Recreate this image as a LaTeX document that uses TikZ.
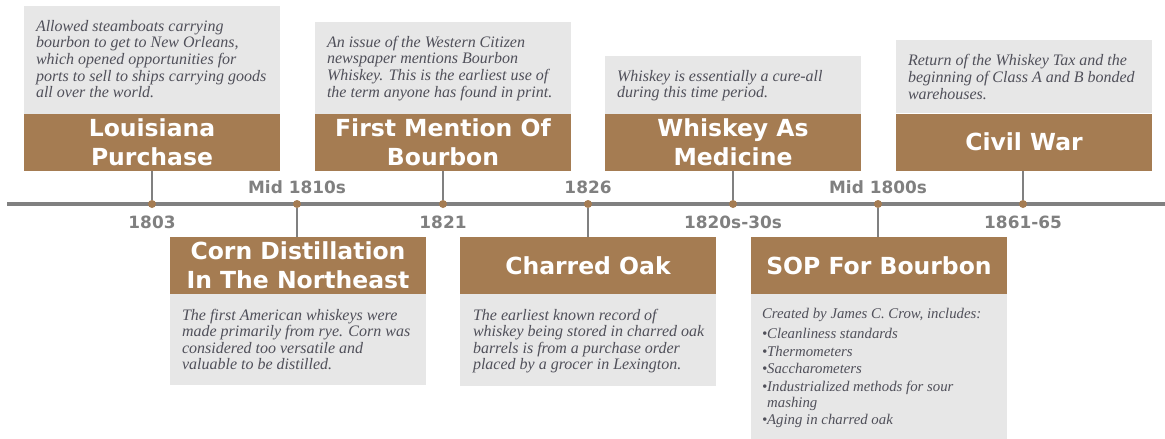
\documentclass[tikz,border=0pt]{standalone}
\usepackage{fontspec}
\setmainfont{Liberation Serif}
\newfontfamily\headfont{DejaVu Sans}
\definecolor{oakbrown}{HTML}{A57C52}
\definecolor{boxgray}{HTML}{E7E7E7}
\definecolor{linegray}{HTML}{808080}
\definecolor{inkgray}{HTML}{50505A}
\tikzset{
  title/.style={fill=oakbrown, text=white, font=\headfont\bfseries\fontsize{23.5}{29}\selectfont,
    align=center, minimum width=256pt, minimum height=57pt, inner sep=0pt},
  descbox/.style={fill=boxgray, minimum width=256pt, inner sep=0pt},
  desc/.style={anchor=north west, inner sep=0pt, align=left, text=inkgray,
    font=\itshape\fontsize{16}{16.6}\selectfont},
  year/.style={text=linegray, font=\headfont\bfseries\fontsize{16.9}{18}\selectfont},
  dot/.style={circle, fill=oakbrown, inner sep=0pt, minimum size=8pt},
  stem/.style={draw=linegray, line width=2pt},
  axis/.style={draw=linegray, line width=4pt}
}
\begin{document}
\begin{tikzpicture}[x=1pt,y=-1pt]
		\useasboundingbox (0,0) rectangle (1165,439);
		%
		\coordinate (tl0) at (7,204);
		\coordinate (tl1) at (1165,204);
		\draw[axis] (tl0) -- (tl1);
		%
		\node[title] (lpt) at (152,142.5) {Louisiana\\Purchase};
		\node[title] (fmt) at (443,142.5) {First Mention Of\\Bourbon};
		\node[title] (wmt) at (733,142.5) {Whiskey As\\Medicine};
		\node[title] (cwt) at (1024,142) {Civil War};
		\node[title] (cdt) at (298,265.5) {Corn Distillation\\In The Northeast};
		\node[title] (cot) at (588,265.5) {Charred Oak};
		\node[title] (sopt) at (879,265.5) {SOP For Bourbon};
		%
		\node[descbox, minimum height=108pt, anchor=south] (lpb) at (lpt.north) {};
		\node[descbox, minimum height=92pt, anchor=south] (fmb) at (fmt.north) {};
		\node[descbox, minimum height=58pt, anchor=south] (wmb) at (wmt.north) {};
		\node[descbox, minimum height=73pt, anchor=south] (cwb) at (cwt.north) {};
		\node[descbox, minimum height=91pt, anchor=north] (cdb) at (cdt.south) {};
		\node[descbox, minimum height=92pt, anchor=north] (cob) at (cot.south) {};
		\node[descbox, minimum height=145pt, anchor=north] (sopb) at (sopt.south) {};
		%
		\node[desc] (lpx) at ([shift={(12,14.5)}]lpb.north west)
			{Allowed steamboats carrying\\bourbon to get to New Orleans,\\which opened opportunities for\\ports to sell to ships carrying goods\\all over the world.};
		\node[desc] (fmx) at ([shift={(12,14.5)}]fmb.north west)
			{An issue of the Western Citizen\\newspaper mentions Bourbon\\Whiskey. This is the earliest use of\\the term anyone has found in print.};
		\node[desc] (wmx) at ([shift={(12,14.5)}]wmb.north west)
			{Whiskey is essentially a cure-all\\during this time period.};
		\node[desc] (cwx) at ([shift={(12,14.5)}]cwb.north west)
			{Return of the Whiskey Tax and the\\beginning of Class A and B bonded\\warehouses.};
		\node[desc] (cdx) at ([shift={(12,14.5)}]cdb.north west)
			{The first American whiskeys were\\made primarily from rye. Corn was\\considered too versatile and\\valuable to be distilled.};
		\node[desc] (cox) at ([shift={(13,14.5)}]cob.north west)
			{The earliest known record of\\whiskey being stored in charred oak\\barrels is from a purchase order\\placed by a grocer in Lexington.};
		\node[desc, font=\itshape\fontsize{14.8}{17.5}\selectfont] (sopx) at ([shift={(11,14)}]sopb.north west)
			{Created by James C. Crow, includes:\\[2.5pt]
			\textbullet Cleanliness standards\\
			\textbullet Thermometers\\
			\textbullet Saccharometers\\
			\textbullet Industrialized methods for sour\\[-1.5pt]
			\phantom{\textbullet}mashing\\
			\textbullet Aging in charred oak};
		%
		\node[dot] (lpd) at (152,204) {};
		\node[dot] (cdd) at (297,204) {};
		\node[dot] (fmd) at (443,204) {};
		\node[dot] (cod) at (588,204) {};
		\node[dot] (wmd) at (733,204) {};
		\node[dot] (sopd) at (878,204) {};
		\node[dot] (cwd) at (1023,204) {};
		%
		\draw[stem] (lpd) -- (lpd |- lpt.south);
		\draw[stem] (fmd) -- (fmd |- fmt.south);
		\draw[stem] (wmd) -- (wmd |- wmt.south);
		\draw[stem] (cwd) -- (cwd |- cwt.south);
		\draw[stem] (cdd) -- (cdd |- cdt.north);
		\draw[stem] (cod) -- (cod |- cot.north);
		\draw[stem] (sopd) -- (sopd |- sopt.north);
		%
		\node[year] (lpy) at (152,222) {1803};
		\node[year] (cdy) at (297,187) {Mid 1810s};
		\node[year] (fmy) at (443,222) {1821};
		\node[year] (coy) at (588,187) {1826};
		\node[year] (wmy) at (733,222) {1820s-30s};
		\node[year] (sopy) at (878,187) {Mid 1800s};
		\node[year] (cwy) at (1023,222) {1861-65};
\end{tikzpicture}
\end{document}
